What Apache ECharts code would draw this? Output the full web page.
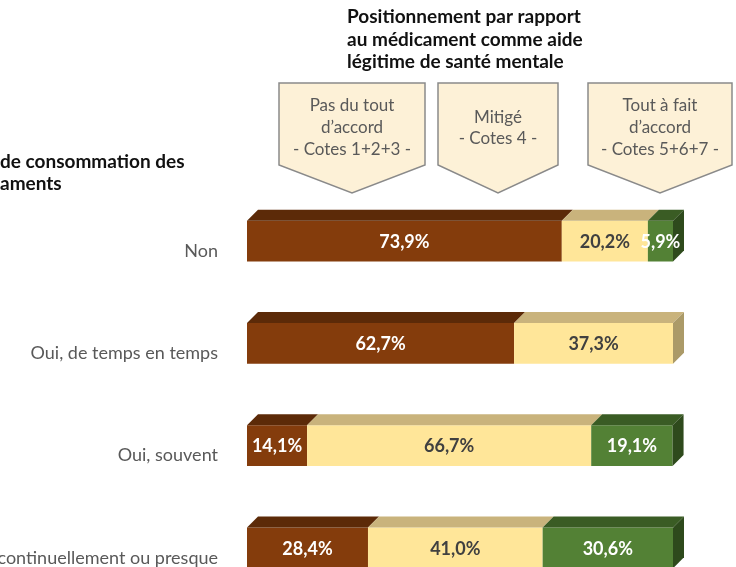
<!DOCTYPE html>
<html>
<head>
<meta charset="utf-8">
<script src="https://cdn.jsdelivr.net/npm/echarts@6/dist/echarts.min.js"></script>
<style>
  html, body { margin: 0; padding: 0; background: #fff; }
  #chart { width: 736px; height: 567px; }
</style>
</head>
<body>
<div id="chart"></div>
<script>
// catégories (fréquence de consommation)
var categories = ['Non', 'Oui, de temps en temps', 'Oui, souvent', 'Oui, continuellement ou presque']
// % par position
var pasDuTout = [73.9, 62.7, 14.1, 28.4]
var mitige = [20.2, 37.3, 66.7, 41.0]
var toutAFait = [5.9, 0, 19.1, 30.6]

var segNames = ['Pas du tout d\'accord', 'Mitigé', 'Tout à fait d\'accord']
var segValues = [pasDuTout, mitige, toutAFait]
// front, dessus, côté, couleur du texte
var segColors = [
  { front: '#843c0c', top: '#5c2a08', side: '#4e2406', text: '#ffffff' },
  { front: '#ffe699', top: '#c9b37c', side: '#ab9a68', text: '#404040' },
  { front: '#538135', top: '#3a5c24', side: '#2e4a1c', text: '#ffffff' }
]

var DX = 11 // profondeur 3D
var DY = 11
var FONT = 'Lato, "Open Sans", sans-serif'

// dernier segment non nul de chaque ligne -> face de côté
function lastIndex(row) {
  var last = 0
  segValues.forEach(function (vals, s) {
    if (vals[row] > 0) last = s
  })
  return last
}

function buildData(s) {
  return categories.map(function (c, i) {
    var start = 0
    for (var k = 0; k < s; k++) start += segValues[k][i]
    return [i, start, start + segValues[s][i], segValues[s][i], lastIndex(i) === s ? 1 : 0]
  })
}

function makeRender(s) {
  var col = segColors[s]
  return function (params, api) {
    var v = api.value(3)
    if (!(v > 0)) return
    var cat = api.value(0)
    var p0 = api.coord([api.value(1), cat])
    var p1 = api.coord([api.value(2), cat])
    var h = api.size([0, 1])[1] * 0.40
    var x0 = p0[0], x1 = p1[0]
    var yT = p0[1] - h / 2, yB = p0[1] + h / 2
    var children = [
      { type: 'rect', shape: { x: x0, y: yT, width: x1 - x0, height: h }, style: { fill: col.front } },
      { type: 'polygon', shape: { points: [[x0, yT], [x1, yT], [x1 + DX, yT - DY], [x0 + DX, yT - DY]] }, style: { fill: col.top } }
    ]
    if (api.value(4) === 1) {
      children.push({ type: 'polygon', shape: { points: [[x1, yT], [x1 + DX, yT - DY], [x1 + DX, yB - DY], [x1, yB]] }, style: { fill: col.side } })
    }
    children.push({
      type: 'text',
      style: {
        text: v.toFixed(1).replace('.', ',') + '%',
        x: (x0 + x1) / 2, y: p0[1] + 1,
        align: 'center', verticalAlign: 'middle',
        font: 'bold 18px ' + FONT, fill: col.text
      }
    })
    return { type: 'group', children: children }
  }
}

// bandeaux en forme de flèche
function arrowBox(x0, x1, lines, ys) {
  var cx = (x0 + x1) / 2
  var els = [{
    type: 'polygon',
    shape: { points: [[x0, 83], [x1, 83], [x1, 165], [cx, 193], [x0, 165]] },
    style: { fill: '#fdf1d7', stroke: '#8a8a8a', lineWidth: 1.5 }
  }]
  lines.forEach(function (t, i) {
    els.push({ type: 'text', style: { text: t, x: cx, y: ys[i], align: 'center', verticalAlign: 'middle', font: '17px ' + FONT, fill: '#595959' } })
  })
  return els
}

var titleLines = ['Positionnement par rapport', 'au médicament comme aide', 'légitime de santé mentale']
var graphics = []
titleLines.forEach(function (t, i) {
  graphics.push({ type: 'text', style: { text: t, x: 347, y: 17 + i * 22.5, verticalAlign: 'middle', font: 'bold 19px ' + FONT, fill: '#111' } })
})
graphics.push({ type: 'text', style: { text: 'de consommation des', x: 0, y: 162, verticalAlign: 'middle', font: 'bold 19px ' + FONT, fill: '#111' } })
graphics.push({ type: 'text', style: { text: 'aments', x: 0, y: 184, verticalAlign: 'middle', font: 'bold 19px ' + FONT, fill: '#111' } })
graphics = graphics
  .concat(arrowBox(279, 425, ['Pas du tout', 'd\u2019accord', '- Cotes 1+2+3 -'], [106, 128, 150]))
  .concat(arrowBox(438, 558, ['Mitigé', '- Cotes 4 -'], [118, 139]))
  .concat(arrowBox(588, 732, ['Tout à fait', 'd\u2019accord', '- Cotes 5+6+7 -'], [106, 128, 150]))

var chart = echarts.init(document.getElementById('chart'), null, { renderer: 'canvas' })
chart.setOption({
  animation: false,
  backgroundColor: '#fff',
  grid: { left: 247, right: 63, top: 190, height: 409, outerBoundsMode: 'none', containLabel: false },
  xAxis: { type: 'value', min: 0, max: 100, show: false },
  yAxis: {
    type: 'category',
    data: categories,
    inverse: true,
    axisLine: { show: false },
    axisTick: { show: false },
    splitLine: { show: false },
    axisLabel: { margin: 29, color: '#595959', fontSize: 18, fontFamily: FONT, verticalAlign: 'top', lineHeight: 20 }
  },
  graphic: graphics,
  series: segNames.map(function (name, s) {
    return {
      name: name,
      type: 'custom',
      renderItem: makeRender(s),
      encode: { x: [1, 2], y: 0 },
      data: buildData(s)
    }
  })
})
</script>
</body>
</html>
